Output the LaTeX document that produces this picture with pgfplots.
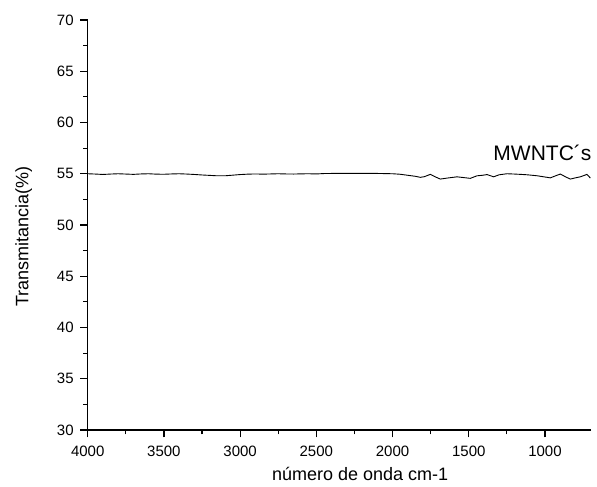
\documentclass[border=0pt]{standalone}
\usepackage{fontspec}
\setmainfont{Liberation Sans}
\usepackage{pgfplots}
\pgfplotsset{compat=1.18}

\begin{document}
\begin{tikzpicture}
\useasboundingbox (0,0) rectangle (597pt,487pt);
\begin{axis}[
  at={(87.7pt,57pt)}, anchor=south west,
  width=503.3pt, height=410pt, scale only axis,
  x dir=reverse,
  xmin=698, xmax=4000, ymin=30, ymax=70,
  axis x line*=bottom, axis y line*=left,
  axis line style={-, line width=1.2pt},
  xtick={1000,1500,...,4000}, ytick={30,35,...,70},
  minor x tick num=1, minor y tick num=1,
  tick align=outside,
  major tick length=7.5pt, minor tick length=4.5pt,
  every tick/.style={black, line width=1.2pt},
  /pgf/number format/assume math mode=true,
  /pgf/number format/1000 sep={},
  tick label style={font=\fontsize{15}{18}\selectfont},
  xticklabel style={yshift=-5pt},
  yticklabel style={xshift=-3pt},
  xlabel={número de onda cm-1},
  ylabel={Transmitancia(\%)},
  label style={font=\fontsize{18}{21}\selectfont},
  xlabel style={at={(rel axis cs:0.366,-0.122)}, anchor=base west, inner sep=0pt},
  ylabel style={at={(rel axis cs:-0.127,0.472)}, anchor=center, rotate=0},
  clip=false,
]
\addplot[black, line width=0.9pt] coordinates {
(4000,55.00) (3950,54.97) (3900,54.93) (3850,54.97) (3800,55.00) (3750,54.97)
(3700,54.94) (3650,54.98) (3600,55.00) (3550,54.96) (3500,54.95) (3450,54.98)
(3400,55.00) (3350,54.97) (3300,54.93) (3250,54.88) (3200,54.84) (3150,54.80)
(3100,54.80) (3050,54.86) (3000,54.92) (2950,54.96) (2900,54.98) (2850,54.96)
(2800,54.98) (2750,55.00) (2700,54.98) (2650,54.97) (2600,54.99) (2550,55.00)
(2500,54.98) (2450,55.02) (2400,55.03) (2300,55.03) (2200,55.04) (2100,55.03)
(2000,55.00) (1950,54.95) (1900,54.85) (1850,54.75) (1818,54.65) (1790,54.72)
(1752,54.94) (1720,54.70) (1687,54.48) (1640,54.58) (1577,54.70) (1530,54.62)
(1490,54.55) (1446,54.80) (1410,54.85) (1380,54.92) (1337,54.70) (1300,54.90)
(1249,55.00) (1200,54.97) (1150,54.93) (1118,54.90) (1050,54.80) (965,54.60)
(930,54.80) (899,54.97) (865,54.70) (834,54.48) (800,54.60) (768,54.70)
(740,54.85) (725,54.94) (702,54.58)
};
\node[anchor=base west, inner sep=0pt, font=\fontsize{21}{25}\selectfont]
  at (axis cs:1339,56.34) {MWNTC´s};
\end{axis}
\end{tikzpicture}
\end{document}
